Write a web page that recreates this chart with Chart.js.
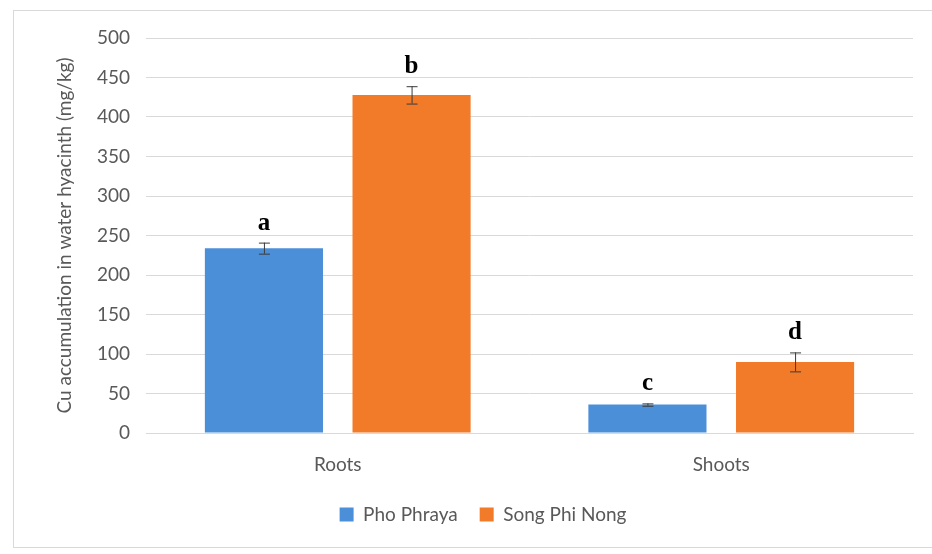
<!DOCTYPE html>
<html>
<head>
<meta charset="utf-8">
<script src="https://cdn.jsdelivr.net/npm/chart.js@4/dist/chart.umd.min.js"></script>
<style>
  body { margin: 0; background: #fff; }
  #wrap { position: relative; width: 932px; height: 554px; }
  #frame { position: absolute; left: 13px; top: 10px; width: 930px; height: 538px; border: 1px solid #d9d9d9; box-sizing: border-box; }
  canvas { position: absolute; left: 0; top: 0; }
</style>
</head>
<body>
<div id="wrap">
  <div id="frame"></div>
  <canvas id="cuChart" width="932" height="554"></canvas>
</div>
<script>
const categories = ['Roots', 'Shoots'];
const seriesNames = ['Pho Phraya', 'Song Phi Nong'];
const phoPhraya = [234, 36];
const songPhiNong = [428, 90];
const phoPhrayaErr = [7, 1.5];
const songPhiNongErr = [11, 12];
const letters = [['a', 'c'], ['b', 'd']];
const yTicks = [0, 50, 100, 150, 200, 250, 300, 350, 400, 450, 500];

const errs = [phoPhrayaErr, songPhiNongErr];

// error bars and significance letters
const errorBars = {
    id: 'errorBars',
    afterDatasetsDraw(chart) {
        const ctx = chart.ctx;
        const y = chart.scales.y;
        chart.data.datasets.forEach((ds, i) => {
            const meta = chart.getDatasetMeta(i);
            meta.data.forEach((bar, j) => {
                const v = ds.data[j];
                const e = errs[i][j];
                const top = y.getPixelForValue(v + e);
                const bot = y.getPixelForValue(v - e);
                ctx.save();
                ctx.strokeStyle = '#3a3a3a';
                ctx.lineWidth = 1;
                ctx.beginPath();
                ctx.moveTo(bar.x + 0.5, top);
                ctx.lineTo(bar.x + 0.5, bot);
                ctx.moveTo(bar.x - 5, top + 0.5);
                ctx.lineTo(bar.x + 6, top + 0.5);
                ctx.moveTo(bar.x - 5, bot + 0.5);
                ctx.lineTo(bar.x + 6, bot + 0.5);
                ctx.stroke();
                ctx.fillStyle = '#000';
                ctx.font = 'bold 25px "Liberation Serif", serif';
                ctx.textAlign = 'center';
                ctx.textBaseline = 'bottom';
                ctx.fillText(letters[i][j], bar.x, top - 7);
                ctx.restore();
            });
        });
    }
};

new Chart(document.getElementById('cuChart'), {
    type: 'bar',
    data: {
        labels: categories,
        datasets: [{
            label: seriesNames[0],
            data: phoPhraya,
            backgroundColor: '#4b8fd9',
            categoryPercentage: 0.77,
            barPercentage: 0.8
        }, {
            label: seriesNames[1],
            data: songPhiNong,
            backgroundColor: '#f27b2a',
            categoryPercentage: 0.77,
            barPercentage: 0.8
        }]
    },
    options: {
        responsive: false,
        animation: false,
        layout: { padding: { left: 53, top: 38, right: 19, bottom: 20 } },
        plugins: {
            tooltip: { enabled: false },
            legend: {
                position: 'bottom',
                labels: {
                    color: '#595959',
                    font: { family: 'Lato', size: 19 },
                    boxWidth: 14,
                    boxHeight: 14,
                    padding: 22
                }
            }
        },
        scales: {
            x: {
                grid: { display: false },
                border: { color: '#d9d9d9' },
                ticks: { color: '#595959', font: { family: 'Lato', size: 19 }, padding: 12 },
                afterFit: s => { s.height = 50; }
            },
            y: {
                min: 0,
                max: 500,
                afterBuildTicks: s => { s.ticks = yTicks.map(v => ({ value: v })); },
                grid: { color: '#d9d9d9', drawTicks: false },
                border: { display: false },
                ticks: { color: '#595959', font: { family: 'Lato', size: 19 }, padding: 16 },
                title: {
                    display: true,
                    text: 'Cu accumulation in water hyacinth (mg/kg)',
                    color: '#595959',
                    font: { family: 'Lato', size: 19 },
                    padding: 0
                },
                afterFit: s => { s.width = 93; }
            }
        }
    },
    plugins: [errorBars]
});
</script>
</body>
</html>
